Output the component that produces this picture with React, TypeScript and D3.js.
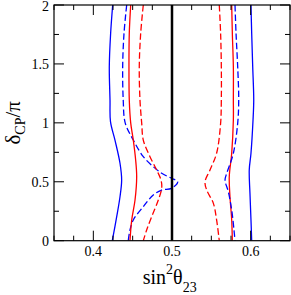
import React from "react";
import * as d3 from "d3";

// sin^2(theta23) vs deltaCP/pi contours, each [sin2, delta] ordered top -> bottom
const blueSolidLeft: [number, number][] = [
  [0.4246, 2.0], [0.422, 1.76], [0.4203, 1.476], [0.4212, 1.194], [0.4218, 1.01],
  [0.4275, 0.854], [0.4339, 0.657], [0.436, 0.515], [0.4339, 0.373], [0.4297, 0.204], [0.4241, 0.0],
];
const blueDashedLeft: [number, number][] = [
  [0.4424, 2.0], [0.439, 1.76], [0.4373, 1.476], [0.438, 1.194], [0.4405, 1.0],
  [0.4508, 0.854], [0.4635, 0.713], [0.4762, 0.628], [0.4869, 0.572], [0.4996, 0.529],
  [0.5072, 0.501], [0.4996, 0.445], [0.4869, 0.43], [0.4762, 0.388], [0.4635, 0.289],
  [0.4508, 0.176], [0.4466, 0.091], [0.4444, 0.0],
];
const redSolidLeft: [number, number][] = [
  [0.4475, 2.0], [0.4457, 1.76], [0.4453, 1.476], [0.4457, 1.194], [0.4475, 1.0],
  [0.4508, 0.854], [0.4538, 0.685], [0.4551, 0.543], [0.453, 0.345], [0.4488, 0.176], [0.4466, 0.0],
];
const redDashedLeft: [number, number][] = [
  [0.4635, 2.0], [0.4602, 1.76], [0.4584, 1.476], [0.4593, 1.194], [0.4615, 0.996],
  [0.4635, 0.854], [0.472, 0.713], [0.4805, 0.6], [0.486, 0.515], [0.4869, 0.445],
  [0.4826, 0.345], [0.4742, 0.204], [0.4678, 0.091], [0.4635, 0.0],
];
const redDashedRight: [number, number][] = [
  [0.5601, 2.0], [0.5618, 1.76], [0.5627, 1.476], [0.5627, 1.194], [0.5618, 0.996],
  [0.5567, 0.742], [0.5483, 0.6], [0.542, 0.501], [0.5441, 0.43], [0.5526, 0.317],
  [0.5567, 0.176], [0.5601, 0.0],
];
const redSolidRight: [number, number][] = [
  [0.5759, 2.0], [0.5767, 1.76], [0.578, 1.476], [0.578, 1.194], [0.578, 1.024],
  [0.5759, 0.742], [0.5728, 0.543], [0.5737, 0.373], [0.5759, 0.176], [0.5767, 0.0],
];
const blueDashedRight: [number, number][] = [
  [0.5801, 2.0], [0.5814, 1.76], [0.5835, 1.476], [0.5848, 1.194], [0.5835, 0.996],
  [0.578, 0.742], [0.5696, 0.572], [0.5674, 0.515], [0.5716, 0.416], [0.5759, 0.26],
  [0.5788, 0.091], [0.5801, 0.0],
];
const blueSolidRight: [number, number][] = [
  [0.6004, 2.0], [0.6013, 1.76], [0.6026, 1.476], [0.6039, 1.194], [0.603, 1.024],
  [0.6004, 0.742], [0.5982, 0.6], [0.5991, 0.402], [0.6004, 0.176], [0.6013, 0.0],
];

const bestFit = 0.5;
const xMajorTicks = [0.4, 0.5, 0.6];
const xTickLabels = ["0.4", "0.5", "0.6"];
const yMajorTicks = [0, 0.5, 1, 1.5, 2];
const yTickLabels = ["0", "0.5", "1", "1.5", "2"];
const xMinorTicks = d3.range(0.35, 0.6501, 0.025);
const yMinorTicks = d3.range(0, 2.001, 0.25);

const curves = [
  { data: blueSolidLeft, color: "#0000ff", dashed: false },
  { data: blueDashedLeft, color: "#0000ff", dashed: true },
  { data: redSolidLeft, color: "#ff0000", dashed: false },
  { data: redDashedLeft, color: "#ff0000", dashed: true },
  { data: redDashedRight, color: "#ff0000", dashed: true },
  { data: redSolidRight, color: "#ff0000", dashed: false },
  { data: blueDashedRight, color: "#0000ff", dashed: true },
  { data: blueSolidRight, color: "#0000ff", dashed: false },
];

export default function App() {
  const L = 54, R = 290, T = 5, B = 240.7;
  const x = d3.scaleLinear().domain([0.35, 0.65]).range([L, R]);
  const y = d3.scaleLinear().domain([0, 2]).range([B, T]);
  const line = d3
    .line<[number, number]>()
    .x((d) => x(d[0]))
    .y((d) => y(d[1]))
    .curve(d3.curveCatmullRom.alpha(0.5));
  const font = "'Liberation Serif', 'Times New Roman', serif";
  const isMajorX = (v: number) => xMajorTicks.some((m) => Math.abs(m - v) < 1e-6);
  const isMajorY = (v: number) => yMajorTicks.some((m) => Math.abs(m - v) < 1e-6);

  return (
    <svg
      width={291}
      height={295}
      style={{ position: "absolute", left: 0, top: 0, background: "#fff" }}
      fontFamily={font}
    >
      <rect x={0} y={0} width={291} height={295} fill="#fff" />
      <defs>
        <clipPath id="plot">
          <rect x={L} y={T} width={R - L} height={B - T} />
        </clipPath>
      </defs>
      <g clipPath="url(#plot)">
        {curves.map((c, i) => (
          <path
            key={i}
            d={line(c.data) || ""}
            fill="none"
            stroke={c.color}
            strokeWidth={1.3}
            strokeDasharray={c.dashed ? "6.5,3" : undefined}
          />
        ))}
        <line x1={x(bestFit)} x2={x(bestFit)} y1={T} y2={B} stroke="#000" strokeWidth={2.5} />
      </g>
      {/* ticks */}
      <g stroke="#000" strokeWidth={1}>
        {xMinorTicks.map((v, i) => {
          const len = isMajorX(v) ? 10 : 5;
          const xx = x(v);
          return (
            <g key={i}>
              <line x1={xx} x2={xx} y1={B} y2={B - len} />
              <line x1={xx} x2={xx} y1={T} y2={T + len} />
            </g>
          );
        })}
        {yMinorTicks.map((v, i) => {
          const len = isMajorY(v) ? 10 : 5;
          const yy = y(v);
          return (
            <g key={i}>
              <line x1={L} x2={L + len} y1={yy} y2={yy} />
              <line x1={R} x2={R - len} y1={yy} y2={yy} />
            </g>
          );
        })}
      </g>
      <rect x={L} y={T} width={R - L} height={B - T} fill="none" stroke="#000" strokeWidth={1.2} />
      {/* tick labels */}
      {xMajorTicks.map((v, i) => (
        <text key={i} x={x(v)} y={256} fontSize={14} textAnchor="middle" fill="#000">
          {xTickLabels[i]}
        </text>
      ))}
      {yMajorTicks.map((v, i) => (
        <text key={i} x={49} y={Math.max(y(v) + 4.8, 11)} fontSize={14} textAnchor="end" fill="#000">
          {yTickLabels[i]}
        </text>
      ))}
      {/* axis titles */}
      <text x={142.7} y={284.3} fontSize={20} fill="#000">
        sin
        <tspan fontSize={14} dy={-10}>2</tspan>
        <tspan dy={10}>θ</tspan>
        <tspan fontSize={14} dy={8}>23</tspan>
      </text>
      <text
        transform={`translate(19.5, ${(T + B) / 2}) rotate(-90)`}
        textAnchor="middle"
        fontSize={21}
        fill="#000"
      >
        δ
        <tspan fontSize={14} dy={5}>CP</tspan>
        <tspan dy={-5}>/π</tspan>
      </text>
    </svg>
  );
}
